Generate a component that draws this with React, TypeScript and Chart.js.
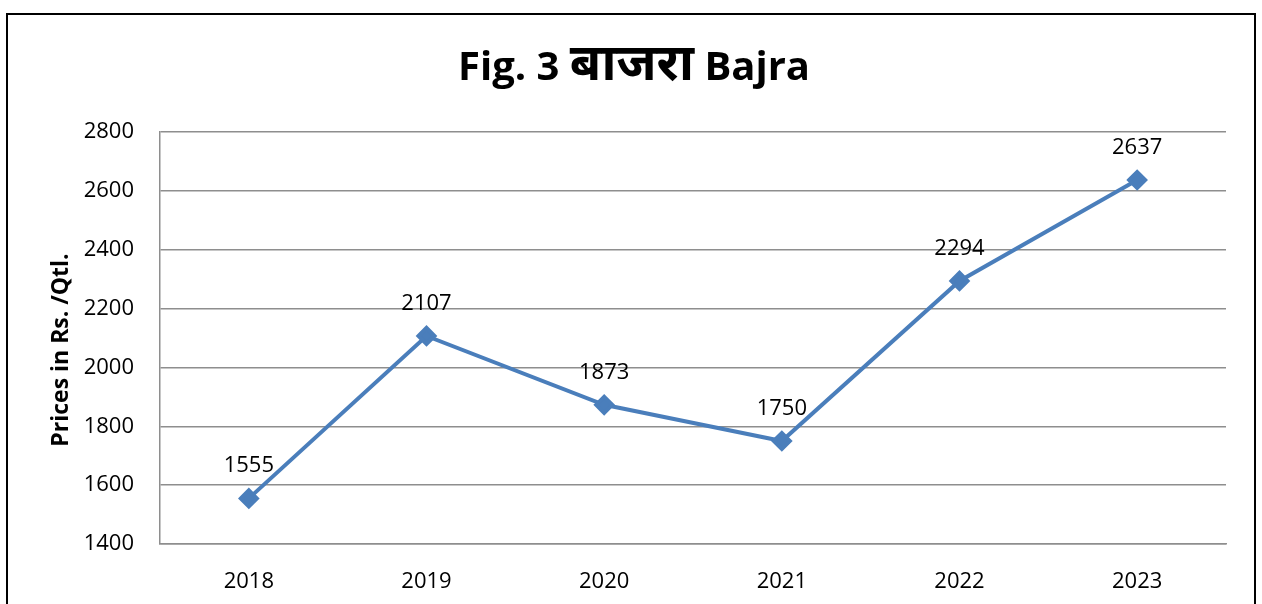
import React, { useEffect, useRef } from "react";
import { Chart, registerables } from "chart.js";

Chart.register(...registerables);

const titleLatinA = "Fig. 3 ";
const titleHindi = "बाजरा";
const titleLatinB = " Bajra";
const yAxisTitle = "Prices in Rs. /Qtl.";
const years = ["2018", "2019", "2020", "2021", "2022", "2023"];
const prices = [1555, 2107, 1873, 1750, 2294, 2637];
const yMin = 1400;
const yMax = 2800;
const yStep = 200;

const FONT = "'Open Sans', 'Noto Sans', sans-serif";

export default function App() {
  const ref = useRef<HTMLCanvasElement | null>(null);

  useEffect(() => {
    if (!ref.current) return;
    const decor = {
      id: "decor",
      beforeDraw(chart: any) {
        const ctx = chart.ctx;
        ctx.save();
        ctx.fillStyle = "#ffffff";
        ctx.fillRect(0, 0, chart.width, chart.height);
        ctx.restore();
      },
      afterDraw(chart: any) {
        const ctx = chart.ctx;
        ctx.save();
        // outer frame
        ctx.strokeStyle = "#000000";
        ctx.lineWidth = 2;
        ctx.strokeRect(7, 14, 1248, 620);
        // title in three runs
        ctx.fillStyle = "#000000";
        ctx.textBaseline = "alphabetic";
        ctx.textAlign = "left";
        const latinFont = `bold 40px ${FONT}`;
        const hindiFont = `bold 51px ${FONT}`;
        ctx.font = latinFont;
        const wA = ctx.measureText(titleLatinA).width;
        const wB = ctx.measureText(titleLatinB).width;
        ctx.font = hindiFont;
        const wH = ctx.measureText(titleHindi).width;
        const total = wA + wH + wB;
        let x = 634 - total / 2;
        const base = 80;
        ctx.font = latinFont;
        ctx.fillText(titleLatinA, x, base);
        x += wA;
        ctx.font = hindiFont;
        ctx.fillText(titleHindi, x, base);
        x += wH;
        ctx.font = latinFont;
        ctx.fillText(titleLatinB, x, base);
        // y axis title
        ctx.translate(61, 350);
        ctx.rotate(-Math.PI / 2);
        ctx.font = `bold 23px ${FONT}`;
        ctx.textAlign = "center";
        ctx.textBaseline = "middle";
        ctx.fillText(yAxisTitle, 0, 0);
        ctx.restore();
        // data labels
        const meta = chart.getDatasetMeta(0);
        ctx.save();
        ctx.fillStyle = "#000000";
        ctx.font = `22px ${FONT}`;
        ctx.textAlign = "center";
        ctx.textBaseline = "alphabetic";
        meta.data.forEach((pt: any, i: number) => {
          ctx.fillText(String(prices[i]), pt.x, pt.y - 26);
        });
        ctx.restore();
      },
    };

    const chart = new Chart(ref.current, {
      type: "line",
      data: {
        labels: years,
        datasets: [
          {
            data: prices,
            borderColor: "#4a7ebb",
            backgroundColor: "#4a7ebb",
            borderWidth: 4,
            pointStyle: "rectRot",
            pointRadius: 8,
            pointHoverRadius: 8,
            pointBackgroundColor: "#4a7ebb",
            pointBorderColor: "#4a7ebb",
            tension: 0,
          },
        ],
      },
      options: {
        animation: false,
        responsive: false,
        maintainAspectRatio: false,
        layout: { padding: { top: 132, left: 0, right: 36, bottom: 0 } },
        plugins: {
          legend: { display: false },
          title: { display: false },
          tooltip: { enabled: false },
        },
        scales: {
          x: {
            offset: true,
            grid: { display: false, drawTicks: false },
            border: { display: true, color: "#8e8e8e", width: 1.5 },
            ticks: {
              color: "#000000",
              font: { family: FONT, size: 22 },
              padding: 25,
              maxRotation: 0,
            },
            afterFit(scale: any) {
              scale.height = 60;
            },
          },
          y: {
            min: yMin,
            max: yMax,
            grid: { color: "#8e8e8e", lineWidth: 1.5, drawTicks: false },
            border: { display: true, color: "#8e8e8e", width: 1.5 },
            ticks: {
              stepSize: yStep,
              color: "#000000",
              font: { family: FONT, size: 22 },
              padding: 26,
              callback: (v: any) => String(v),
            },
            afterFit(scale: any) {
              scale.width = 160;
            },
          },
        },
      },
      plugins: [decor],
    } as any);
    return () => chart.destroy();
  }, []);

  return (
    <div style={{ position: "absolute", left: 0, top: 0, width: 1262, height: 604 }}>
      <canvas ref={ref} width={1262} height={604} style={{ display: "block" }} />
    </div>
  );
}
